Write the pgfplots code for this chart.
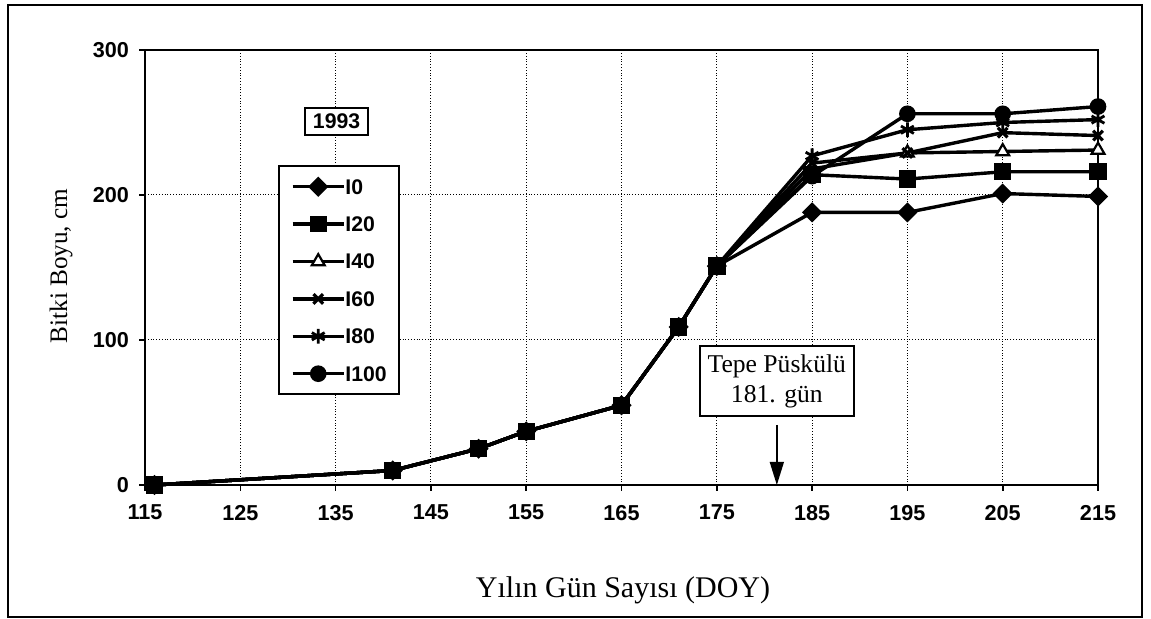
\documentclass[border=0pt]{standalone}
\usepackage{pgfplots}
\usepackage{pgfplotstable}
\pgfplotsset{compat=1.18}
\usepackage{fontspec}
\setmainfont{Liberation Serif}
\newfontfamily\arialfont{Liberation Sans}
\usetikzlibrary{arrows.meta}

\pgfplotstableread{
x    I0  I20 I40 I60 I80 I100
116  0   0   0   0   0   0
141  10  10  10  10  10  10
150  25  25  25  25  25  25
155  37  37  37  37  37  37
165  55  55  55  55  55  55
171  109 109 109 109 109 109
175  151 151 151 151 151 151
185  188 214 218 222 227 213
195  188 211 229 229 245 256
205  201 216 230 243 250 256
215  199 216 231 241 252 261
}\datatable

\begin{document}
\begin{tikzpicture}
\useasboundingbox (0,0) rectangle (575.5pt,-309.5pt);
\draw[line width=0.8pt] (4pt,-2.5pt) rectangle (571pt,-308.5pt);
\begin{axis}[
  scale only axis, width=476.5pt, height=217.5pt,
  at={(72.5pt,-242.5pt)}, anchor=south west,
  xmin=115, xmax=215, ymin=0, ymax=300,
  xtick={115,125,...,215}, ytick={0,100,200,300},
  xtick pos=left, ytick pos=left,
  grid=major, major grid style={densely dotted, line width=0.5pt, black},
  axis line style={line width=1.4pt},
  tick align=outside, major tick length=3pt, tick style={line width=0.8pt, black},
  ticklabel style={font=\arialfont\bfseries\fontsize{10.8}{12}\selectfont},
  xticklabel style={yshift=-3.5pt},
  yticklabel style={xshift=-1.5pt},
  /pgf/number format/assume math mode=true,
  /pgf/number format/1000 sep={},
  clip=false,
  legend style={at={(0.1396,0.7356)}, anchor=north west, draw=black, line width=1pt,
    fill=white, inner xsep=6pt, inner ysep=1pt, row sep=0pt,
    font=\arialfont\bfseries\fontsize{10.6}{12}\selectfont,
    nodes={inner sep=0pt, minimum height=18.7pt, text depth=0pt}},
  legend cell align=left,
  legend image code/.code={\draw[mark repeat=2,mark phase=2] plot coordinates {(0pt,0pt)(12.75pt,0pt)(25.5pt,0pt)};},
]
\addlegendimage{black, line width=1.7pt, mark=square*, mark size=2.7pt, mark options={rotate=45}}
\addlegendentry{I0}
\addlegendimage{black, line width=1.7pt, mark=square*, mark size=3.3pt}
\addlegendentry{I20}
\addlegendimage{black, line width=1.7pt, mark=triangle*, mark size=3.7pt, mark options={fill=white, line width=1.1pt}}
\addlegendentry{I40}
\addlegendimage{black, line width=1.7pt, mark=x, mark size=3.4pt, mark options={line width=1.6pt}}
\addlegendentry{I60}
\addlegendimage{black, line width=1.7pt, mark=asterisk, mark size=3.7pt, mark options={line width=1.4pt}}
\addlegendentry{I80}
\addlegendimage{black, line width=1.7pt, mark=*, mark size=3.3pt}
\addlegendentry{I100}

\addplot[forget plot, black, line width=1.7pt, mark=square*, mark size=2.7pt, mark options={rotate=45}] table[x=x,y=I0] {\datatable};
\addplot[forget plot, black, line width=1.7pt, mark=triangle*, mark size=3.7pt, mark options={fill=white, line width=1.1pt}] table[x=x,y=I40] {\datatable};
\addplot[forget plot, black, line width=1.7pt, mark=x, mark size=3.4pt, mark options={line width=1.6pt}] table[x=x,y=I60] {\datatable};
\addplot[forget plot, black, line width=1.7pt, mark=asterisk, mark size=3.7pt, mark options={line width=1.4pt}] table[x=x,y=I80] {\datatable};
\addplot[forget plot, black, line width=1.7pt, mark=*, mark size=3.3pt] table[x=x,y=I100] {\datatable};
\addplot[forget plot, black, line width=1.7pt, mark=square*, mark size=3.5pt] table[x=x,y=I20] {\datatable};

\node[draw, fill=white, line width=0.8pt, minimum width=77pt, minimum height=35pt, align=center,
  font=\fontsize{12.8}{15}\selectfont, inner sep=0pt] at (axis cs:181.3,71.7) {Tepe Püskülü\\181. gün};
\draw[line width=0.7pt, -{Triangle[length=11.5pt,width=7pt]}] (axis cs:181.3,41.4) -- (axis cs:181.3,0);
\node[draw, fill=white, line width=1pt, minimum width=31.5pt, minimum height=13.5pt, inner sep=0pt,
  font=\arialfont\bfseries\fontsize{10.6}{12}\selectfont] at (axis cs:135.1,251) {1993};
\end{axis}
\node[font=\fontsize{15}{17}\selectfont] at (311.5pt,-295pt) {Yılın Gün Sayısı (DOY)};
\node[rotate=90, font=\fontsize{12.6}{15}\selectfont] at (30.5pt,-133pt) {Bitki Boyu, cm};
\end{tikzpicture}
\end{document}
